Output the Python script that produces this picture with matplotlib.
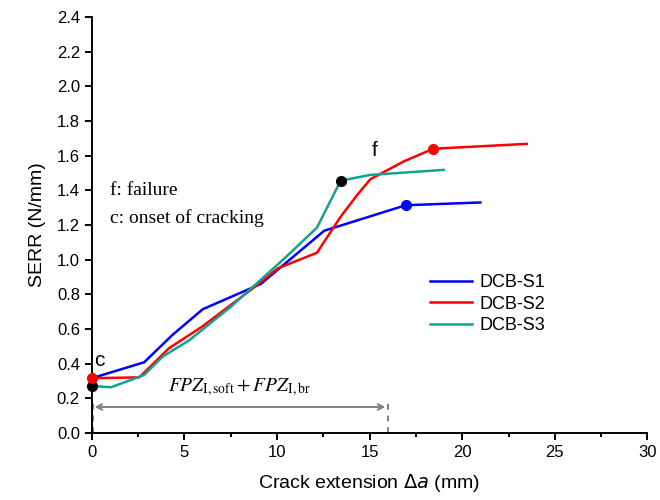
import matplotlib.pyplot as plt
import numpy as np

plt.rcParams['font.family'] = ['Liberation Sans', 'DejaVu Sans']

# DCB-S1
x1 = [0, 2.83, 4.35, 5.99, 9.13, 12.55, 16.95, 20.98]
y1 = [0.316, 0.408, 0.565, 0.714, 0.86, 1.167, 1.314, 1.33]
# DCB-S2
x2 = [0, 2.57, 4.17, 5.95, 8.63, 10.05, 12.16, 13.44, 14.33, 15.04, 16.83, 18.43, 23.48]
y2 = [0.316, 0.321, 0.489, 0.613, 0.829, 0.95, 1.04, 1.248, 1.373, 1.464, 1.566, 1.64, 1.668]
# DCB-S3
x3 = [0, 1.05, 2.83, 3.82, 5.24, 7.56, 10.41, 12.16, 12.64, 13.44, 15.04, 19.0]
y3 = [0.271, 0.264, 0.335, 0.44, 0.533, 0.733, 1.008, 1.185, 1.287, 1.456, 1.489, 1.518]

# onset / failure points
fail_x = [16.95, 18.43, 13.44]
fail_y = [1.314, 1.64, 1.456]
fail_c = ['#0000ff', '#ff0000', 'black']
onset_x = [0, 0]
onset_y = [0.271, 0.316]
onset_c = ['black', '#ff0000']

fpz_end = 16

fig = plt.figure(figsize=(6.6, 5), dpi=100)
ax = fig.add_axes([0.139, 0.134, 0.842, 0.832])

ax.plot(x1, y1, color='#0000ff', lw=1.8, label='DCB-S1', zorder=3)
ax.plot(x2, y2, color='#ff0000', lw=1.8, label='DCB-S2', zorder=3)
ax.plot(x3, y3, color='#14a38e', lw=1.8, label='DCB-S3', zorder=3)

for x, y, c in zip(fail_x, fail_y, fail_c):
    ax.plot(x, y, 'o', color=c, ms=7, zorder=4, clip_on=False)
for x, y, c in zip(onset_x, onset_y, onset_c):
    ax.plot(x, y, 'o', color=c, ms=7, zorder=4, clip_on=False)

# FPZ arrow
ax.annotate('', xy=(0, 0.15), xytext=(fpz_end, 0.15),
            arrowprops=dict(arrowstyle='<->', color='grey', lw=1.4, mutation_scale=10))
ax.plot([0.05, 0.05], [0.0, 0.2], ls=(0, (3, 3)), color='grey', lw=1.4)
ax.plot([fpz_end, fpz_end], [0.0, 0.2], ls=(0, (3, 3)), color='grey', lw=1.4)
ax.text(fpz_end / 2, 0.265, r'$FPZ_{\mathrm{I,soft}}+FPZ_{\mathrm{I,br}}$',
        ha='center', va='center', fontsize=14, math_fontfamily='stix')

ax.text(0.15, 0.42, 'c', fontsize=15, ha='left', va='center')
ax.text(15.1, 1.63, 'f', fontsize=15, ha='left', va='center')
ax.text(1.0, 1.40, 'f: failure', fontsize=14, family='Liberation Serif', va='center')
ax.text(1.0, 1.24, 'c: onset of cracking', fontsize=14, family='Liberation Serif', va='center')

ax.set_xlim(0, 30)
ax.set_ylim(0, 2.4)
ax.set_xticks(np.arange(0, 31, 5))
ax.set_xticks(np.arange(0, 30, 2.5), minor=True)
ax.set_yticks(np.arange(0, 2.41, 0.2))
ax.set_yticklabels(['%.1f' % v for v in np.arange(0, 2.41, 0.2)])
ax.tick_params(labelsize=12, direction='out', width=1.4, length=5)
ax.tick_params(which='minor', width=1.4, length=3)
ax.spines['top'].set_visible(False)
ax.spines['right'].set_visible(False)
ax.spines['left'].set_linewidth(1.4)
ax.spines['bottom'].set_linewidth(1.4)

ax.set_xlabel(r'Crack extension $\Delta a$ (mm)', fontsize=14, labelpad=9)
ax.set_ylabel('SERR (N/mm)', fontsize=14, labelpad=8)

ax.legend(loc='center left', bbox_to_anchor=(0.58, 0.31), frameon=False, fontsize=13,
          handlelength=2.3, labelspacing=0.25, handletextpad=0.4)

fig.savefig('out.png', dpi=100)
